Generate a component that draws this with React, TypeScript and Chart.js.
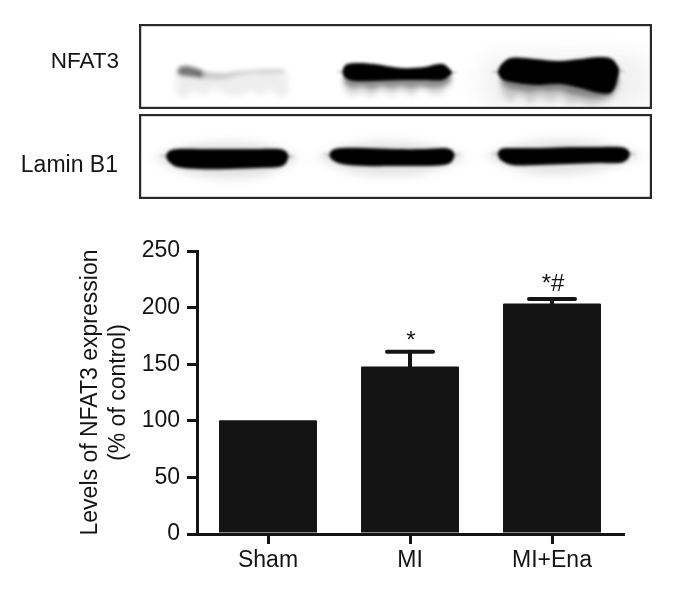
import React, { useEffect, useRef } from "react";
import { Chart, registerables } from "chart.js";

const FONT = "'Liberation Sans', Arial, sans-serif";
const INK = "#141414";

// Bar chart data
const categories = ["Sham", "MI", "MI+Ena"];
const levels = [100.5, 148, 203.7];
const errorTops = [null, 161, 207.6];
const significance = ["", "*", "*#"];
const yTicks = [0, 50, 100, 150, 200, 250];
const yTitle = ["Levels of NFAT3 expression", "(% of control)"];

// Western blot band outlines, read across each panel (left→right, distance from panel top)
const nfatShamX = [38, 41, 48, 56, 63];
const nfatShamTop = [47, 43, 42, 44, 47];
const nfatShamBot = [48, 51, 52, 53, 53];

const nfatShamTailX = [60, 72, 85, 97, 110, 125, 145];
const nfatShamTailTop = [47, 48, 49, 47, 46, 45, 45];
const nfatShamTailBot = [54, 55, 55, 52, 50, 50, 49];

const nfatShamSmearX = [37, 45, 55, 65, 75, 88, 100, 112, 122, 130, 140, 148];
const nfatShamSmearTop = [50, 50, 50, 50, 50, 50, 50, 50, 50, 50, 50, 50];
const nfatShamSmearBot = [70, 74, 66, 72, 64, 70, 72, 66, 72, 64, 73, 72];

const nfatMiX = [203, 206, 215, 235, 262, 285, 303, 312];
const nfatMiTop = [47, 41, 39, 40, 44, 43, 40, 47];
const nfatMiBot = [49, 54, 57, 57, 56, 56, 56, 50];

const nfatMiSmearX = [205, 213, 222, 232, 242, 252, 262, 272, 282, 292, 302, 311];
const nfatMiSmearTop = [50, 50, 50, 50, 50, 50, 50, 50, 50, 50, 50, 50];
const nfatMiSmearBot = [66, 72, 68, 73, 66, 71, 66, 72, 64, 70, 70, 60];
const nfatMiShadeBot = [60, 64, 62, 65, 62, 64, 62, 64, 62, 64, 63, 58];

const nfatEnaX = [358, 362, 371, 395, 419, 440, 459, 472, 479];
const nfatEnaTop = [47, 40, 34, 35, 37, 35, 33, 35, 44];
const nfatEnaBot = [49, 55, 58, 61, 60, 64, 69, 68, 50];

const nfatEnaSmearX = [362, 370, 380, 390, 400, 410, 420, 430, 440, 450, 460, 470, 478];
const nfatEnaSmearTop = [52, 52, 52, 52, 52, 52, 52, 52, 52, 52, 52, 52, 52];
const nfatEnaSmearBot = [68, 78, 70, 79, 72, 78, 72, 80, 78, 82, 80, 76, 66];
const nfatEnaShadeBot = [60, 65, 66, 68, 66, 67, 66, 70, 72, 74, 74, 72, 60];

const enaHazeX = [345, 400, 460, 505];
const enaHazeTop = [36, 30, 30, 36];
const enaHazeBot = [80, 84, 84, 80];

const laminShamX = [27, 30, 38, 60, 90, 120, 140, 146, 149];
const laminShamTop = [41, 37, 35, 35, 35, 35, 35, 37, 41];
const laminShamBot = [43, 48, 53, 55, 55, 54, 53, 50, 44];
const laminShamHaloX = [18, 60, 120, 158];
const laminShamHaloTop = [42, 30, 30, 42];
const laminShamHaloBot = [46, 62, 62, 46];

const laminMiX = [190, 193, 202, 225, 255, 285, 305, 312, 315];
const laminMiTop = [40, 36, 34, 34, 35, 35, 34, 36, 40];
const laminMiBot = [42, 46, 50, 52, 52, 52, 51, 48, 42];
const laminMiHaloX = [180, 220, 280, 324];
const laminMiHaloTop = [41, 29, 29, 41];
const laminMiHaloBot = [45, 60, 60, 45];

const laminEnaX = [358, 361, 372, 400, 430, 460, 480, 487, 490];
const laminEnaTop = [39, 35, 34, 34, 33, 33, 33, 35, 39];
const laminEnaBot = [41, 46, 51, 51, 50, 49, 49, 46, 41];
const laminEnaHaloX = [348, 390, 450, 500];
const laminEnaHaloTop = [40, 28, 27, 40];
const laminEnaHaloBot = [44, 59, 58, 44];

// The filler clips to the outline's x range, so each outline runs on as a zero-height
// line past both ends: that leaves room for the blur to fade out.
function band(x: number[], top: number[], bot: number[], color: string, blurPx: number, tension = 0.35) {
  const n = x.length - 1;
  const startY = (top[0] + bot[0]) / 2;
  const endY = (top[n] + bot[n]) / 2;
  const run = blurPx * 4;
  const pts = (ys: number[]) => [
    { x: x[0] - run, y: startY },
    { x: x[0] - 0.5, y: startY },
    ...x.map((v, i) => ({ x: v, y: ys[i] })),
    { x: x[n] + 0.5, y: endY },
    { x: x[n] + run, y: endY },
  ];
  return [
    { data: pts(top), fill: "+1", backgroundColor: color, borderColor: "transparent", borderWidth: 0, pointRadius: 0, tension, blurPx },
    { data: pts(bot), fill: false, borderColor: "transparent", borderWidth: 0, pointRadius: 0, tension, blurPx },
  ];
}

// first listed is painted last
const nfatDatasets = [
  ...band(nfatMiX, nfatMiTop, nfatMiBot, "#000", 1.8),
  ...band(nfatEnaX, nfatEnaTop, nfatEnaBot, "#000", 1.8),
  ...band(nfatShamX, nfatShamTop, nfatShamBot, "rgba(30,30,30,0.62)", 2),
  ...band(nfatShamTailX, nfatShamTailTop, nfatShamTailBot, "rgba(50,50,50,0.2)", 2),
  ...band(nfatMiSmearX, nfatMiSmearTop, nfatMiShadeBot, "rgba(30,30,30,0.4)", 2.5, 0),
  ...band(nfatEnaSmearX, nfatEnaSmearTop, nfatEnaShadeBot, "rgba(30,30,30,0.4)", 2.5, 0),
  ...band(nfatMiSmearX, nfatMiSmearTop, nfatMiSmearBot, "rgba(40,40,40,0.18)", 3, 0),
  ...band(nfatEnaSmearX, nfatEnaSmearTop, nfatEnaSmearBot, "rgba(40,40,40,0.2)", 3, 0),
  ...band(nfatShamSmearX, nfatShamSmearTop, nfatShamSmearBot, "rgba(60,60,60,0.09)", 3, 0),
  ...band(enaHazeX, enaHazeTop, enaHazeBot, "rgba(60,60,60,0.07)", 9),
];

const laminDatasets = [
  ...band(laminShamX, laminShamTop, laminShamBot, "#000", 1.8),
  ...band(laminMiX, laminMiTop, laminMiBot, "#000", 1.8),
  ...band(laminEnaX, laminEnaTop, laminEnaBot, "#000", 1.8),
  ...band(laminShamHaloX, laminShamHaloTop, laminShamHaloBot, "rgba(50,50,50,0.14)", 5),
  ...band(laminMiHaloX, laminMiHaloTop, laminMiHaloBot, "rgba(50,50,50,0.13)", 5),
  ...band(laminEnaHaloX, laminEnaHaloTop, laminEnaHaloBot, "rgba(50,50,50,0.13)", 5),
];

// Registered ahead of the filler so its blur is already set when each area is filled.
const blurPlugin = {
  id: "blotBlur",
  beforeDatasetDraw(chart: any, args: any) {
    if (chart.config.type !== "line") return;
    const px = chart.data.datasets[args.index].blurPx || 0;
    chart.ctx.filter = `blur(${px}px)`;
  },
  afterDatasetDraw(chart: any) {
    if (chart.config.type !== "line") return;
    chart.ctx.filter = "none";
  },
  afterDraw(chart: any) {
    if (chart.config.type !== "line") return;
    const { ctx, width, height } = chart;
    ctx.save();
    ctx.strokeStyle = "#2a2a2a";
    ctx.lineWidth = 2.2;
    ctx.strokeRect(1.1, 1.1, width - 2.2, height - 2.2);
    ctx.restore();
  },
};

Chart.register(blurPlugin as any);
Chart.register(...registerables);

function BlotPanel({ top, height, datasets }: { top: number; height: number; datasets: any[] }) {
  const ref = useRef<HTMLCanvasElement>(null);
  useEffect(() => {
    const chart = new Chart(ref.current!, {
      type: "line",
      data: { datasets },
      options: {
        animation: false,
        responsive: false,
        plugins: { legend: { display: false }, tooltip: { enabled: false } },
        scales: {
          x: { type: "linear", display: false, min: 0, max: 512 },
          y: { type: "linear", display: false, reverse: true, min: 0, max: height },
        },
      },
    } as any);
    return () => chart.destroy();
  }, []);
  return (
    <canvas
      ref={ref}
      width={513}
      height={height}
      style={{ position: "absolute", left: 138.5, top, width: 513, height }}
    />
  );
}

const errorPlugin = {
  id: "errorBars",
  afterDatasetsDraw(chart: any) {
    const { ctx, scales } = chart;
    const { x, y } = scales;
    ctx.save();
    ctx.strokeStyle = INK;
    ctx.fillStyle = INK;
    ctx.lineCap = "round";
    categories.forEach((_, i) => {
      const top = errorTops[i];
      if (top == null) return;
      const cx = x.getPixelForValue(i);
      const yTop = y.getPixelForValue(top);
      const yBar = y.getPixelForValue(levels[i]);
      ctx.lineWidth = 4;
      ctx.beginPath();
      ctx.moveTo(cx, yBar);
      ctx.lineTo(cx, yTop);
      ctx.stroke();
      ctx.beginPath();
      ctx.moveTo(cx - 23, yTop);
      ctx.lineTo(cx + 23, yTop);
      ctx.stroke();
      ctx.font = `24px ${FONT}`;
      ctx.textAlign = "center";
      ctx.textBaseline = "middle";
      ctx.fillText(significance[i], cx + 1, yTop + (i === 1 ? -10 : -15));
    });
    ctx.restore();
  },
};

export default function App() {
  const ref = useRef<HTMLCanvasElement>(null);
  useEffect(() => {
    const chart = new Chart(ref.current!, {
      type: "bar",
      data: {
        labels: categories,
        datasets: [
          {
            data: levels,
            backgroundColor: INK,
            borderWidth: 0,
            barPercentage: 0.69,
            categoryPercentage: 1,
            borderRadius: 1,
          },
        ],
      },
      plugins: [errorPlugin],
      options: {
        animation: false,
        responsive: false,
        layout: { padding: { left: 70, top: 251, right: 54, bottom: 0 } },
        plugins: { legend: { display: false }, tooltip: { enabled: false } },
        scales: {
          x: {
            offset: true,
            afterFit(s: any) {
              s.height = 57;
            },
            grid: { offset: false, drawOnChartArea: false, color: INK, lineWidth: 3, tickLength: 10 },
            border: { color: INK, width: 3 },
            ticks: { color: INK, font: { family: FONT, size: 23 }, padding: 3, maxRotation: 0 },
          },
          y: {
            min: 0,
            max: 250,
            afterFit(s: any) {
              s.width = 127;
            },
            afterBuildTicks(s: any) {
              s.ticks = yTicks.map((value) => ({ value }));
            },
            grid: { drawOnChartArea: false, color: INK, lineWidth: 3, tickLength: 10 },
            border: { color: INK, width: 3 },
            ticks: { color: INK, font: { family: FONT, size: 23 }, padding: 7 },
            title: {
              display: true,
              text: yTitle,
              color: INK,
              font: { family: FONT, size: 23, lineHeight: 1.24 },
              padding: { top: 6, bottom: 0 },
            },
          },
        },
      },
    } as any);
    return () => chart.destroy();
  }, []);

  return (
    <div style={{ position: "fixed", left: 0, top: 0, width: 677, height: 591, background: "#fff", overflow: "hidden" }}>
      <canvas ref={ref} width={677} height={591} style={{ position: "absolute", left: 0, top: 0, width: 677, height: 591 }} />
      <BlotPanel top={24} height={85} datasets={nfatDatasets} />
      <BlotPanel top={114} height={85} datasets={laminDatasets} />
      <div style={{ position: "absolute", right: 677 - 119, top: 48, font: `22.5px ${FONT}`, color: INK, whiteSpace: "nowrap" }}>NFAT3</div>
      <div style={{ position: "absolute", right: 677 - 118, top: 151, font: `23px ${FONT}`, color: INK, whiteSpace: "nowrap" }}>Lamin B1</div>
    </div>
  );
}
